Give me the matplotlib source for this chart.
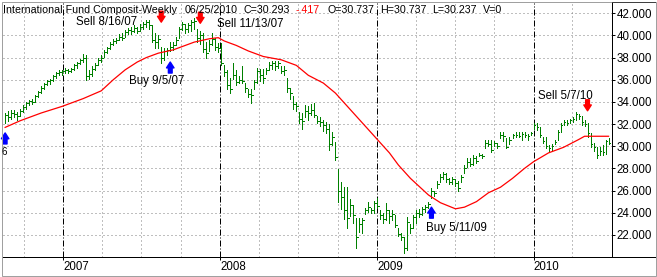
import matplotlib
matplotlib.use('Agg')
import matplotlib.pyplot as plt
import matplotlib.dates as mdates
from matplotlib.lines import Line2D
from matplotlib.patches import Rectangle
import pandas as pd

# Weekly bars, Aug 2006 - Jun 2010
weeks = pd.date_range(end='2010-06-25', periods=202, freq='W-FRI')

closes = [32.8, 32.6, 33.0, 32.9, 32.7, 33.2, 33.5, 33.9, 34.1, 34.0, 34.5, 34.9, 35.3, 35.6, 35.9, 36.0, 36.3, 36.6, 36.7, 36.8,
          36.9, 36.8, 37.0, 37.3, 37.5, 37.8, 38.0, 36.3, 36.5, 37.0, 37.3, 37.8, 38.0, 38.5, 38.9, 39.2, 39.5,
          39.6, 39.9, 39.8, 40.3, 40.5, 40.4, 40.7, 40.4, 40.8, 41.0, 41.2, 40.9, 39.6, 39.4, 39.7, 38.0, 38.6, 38.7, 39.0, 39.1,
          39.6, 40.6, 41.0, 40.6, 40.9, 41.2, 41.3, 39.8, 40.0, 38.8, 38.4, 39.2, 39.7, 39.0, 38.9,
          37.5, 36.7, 35.5, 35.2, 36.4, 35.8, 36.0, 35.9, 35.3, 34.7, 34.6, 35.8, 36.8, 36.4, 36.2, 36.9, 37.3, 37.5, 37.2, 37.5,
          36.8, 36.9, 35.3, 34.8, 33.8, 33.6, 32.5, 32.3, 33.2, 33.0, 33.3, 32.8, 32.3, 32.2, 31.9, 31.6, 30.2, 30.8, 29.0, 26.0,
          25.4, 24.2, 23.5, 24.7, 23.8, 21.8, 23.0, 23.3, 24.2, 24.5, 24.2, 24.9,
          24.6, 23.8, 23.4, 24.2, 23.7, 23.9, 22.9, 22.1, 21.8, 20.8, 23.2, 22.6, 23.6, 24.0, 23.9, 24.3, 24.5, 24.8, 26.0, 25.8,
          26.6, 27.2, 27.5, 27.0, 26.8, 27.0, 26.7, 26.2, 27.2, 28.0, 28.6, 28.4, 28.9, 28.7, 29.2, 29.1, 30.3, 30.2, 29.7, 30.3,
          30.0, 31.0, 30.9, 29.9, 30.6, 31.0, 31.0, 30.9, 31.1, 31.0, 30.9, 31.2,
          31.9, 31.7, 31.0, 30.5, 30.0, 29.8, 30.0, 30.4, 31.3, 31.9, 32.2, 32.1, 32.4, 32.5, 32.9, 32.7, 32.2, 32.0, 31.2, 30.2,
          29.9, 29.2, 29.6, 29.5, 30.5, 30.293]
highs = [33.0, 33.2, 33.3, 33.3, 33.1, 33.4, 33.7, 34.0, 34.2, 34.3, 34.6, 35.0, 35.4, 35.7, 36.0, 36.1, 36.4, 36.7, 36.9, 36.9,
         37.1, 37.0, 37.1, 37.4, 37.6, 37.9, 38.3, 38.2, 36.9, 37.2, 37.5, 38.0, 38.2, 38.7, 39.0, 39.4, 39.7,
         39.8, 40.1, 40.2, 40.5, 40.7, 40.8, 40.9, 40.8, 41.0, 41.2, 41.4, 41.4, 40.9, 40.2, 40.0, 39.0, 38.9, 38.9, 39.4, 39.4,
         39.9, 40.8, 41.2, 41.0, 41.1, 41.4, 41.6, 40.6, 40.4, 40.2, 39.4, 39.6, 40.2, 39.8, 39.3,
         39.3, 37.3, 36.9, 36.2, 37.5, 36.9, 36.3, 37.2, 35.7, 35.2, 35.2, 36.0, 37.1, 37.0, 37.0, 37.1, 37.6, 37.7, 37.7, 37.7,
         37.2, 37.2, 36.2, 35.3, 34.5, 34.0, 33.1, 33.0, 33.7, 33.6, 33.8, 33.9, 32.7, 32.6, 32.4, 32.2, 32.0, 31.3, 30.4, 27.9,
         26.8, 26.3, 26.3, 25.2, 24.7, 23.5, 23.5, 23.5, 24.4, 25.0, 24.4, 25.1,
         25.3, 24.2, 24.0, 24.9, 24.2, 24.2, 23.8, 22.6, 22.2, 21.8, 23.6, 23.0, 23.8, 24.2, 24.3, 24.5, 24.7, 25.0, 26.2, 26.0,
         26.9, 27.5, 27.7, 27.6, 27.1, 27.2, 27.0, 26.9, 27.4, 28.3, 28.9, 28.9, 29.2, 29.1, 29.4, 29.3, 30.6, 30.6, 30.6, 30.5,
         30.3, 31.3, 31.3, 30.7, 30.8, 31.1, 31.3, 31.3, 31.3, 31.3, 31.1, 31.3,
         32.1, 32.1, 31.7, 30.8, 30.8, 30.1, 30.2, 30.6, 31.5, 32.1, 32.4, 32.4, 32.5, 32.6, 33.1, 32.9, 32.7, 32.4, 32.1, 31.2,
         30.3, 29.9, 29.9, 30.1, 30.6, 30.737]
lows = [32.1, 32.3, 32.5, 32.6, 32.4, 32.7, 33.1, 33.4, 33.7, 33.8, 34.0, 34.4, 34.8, 35.2, 35.5, 35.6, 35.9, 36.2, 36.4, 36.4,
        36.6, 36.6, 36.7, 36.9, 37.1, 37.4, 37.6, 36.0, 36.1, 36.3, 36.9, 37.3, 37.6, 38.1, 38.4, 38.8, 39.1,
        39.3, 39.6, 39.6, 39.9, 40.1, 40.1, 40.3, 40.2, 40.4, 40.6, 40.8, 40.6, 39.4, 38.9, 38.9, 37.5, 37.8, 38.2, 38.6, 38.7,
        39.1, 39.8, 40.5, 40.2, 40.3, 40.4, 40.6, 39.4, 39.2, 38.5, 38.0, 38.6, 39.1, 38.7, 38.5,
        37.3, 36.3, 35.2, 34.8, 36.1, 35.5, 35.7, 35.7, 34.9, 34.4, 33.9, 35.2, 35.7, 35.9, 35.7, 36.5, 36.9, 37.0, 36.9, 37.1,
        36.6, 36.4, 34.9, 34.3, 33.4, 33.2, 32.1, 31.6, 32.6, 32.4, 32.8, 32.6, 32.1, 31.8, 31.4, 31.2, 29.7, 30.1, 28.8, 25.0,
        24.3, 23.4, 22.6, 23.7, 23.1, 20.8, 22.3, 22.2, 23.9, 24.1, 24.0, 24.0,
        24.4, 23.4, 23.1, 23.3, 23.1, 23.3, 22.7, 21.9, 21.5, 20.4, 20.6, 22.2, 22.6, 23.1, 23.6, 23.8, 24.1, 24.4, 25.3, 25.5,
        26.2, 26.8, 27.0, 26.8, 26.6, 26.6, 26.4, 26.0, 26.8, 27.6, 28.1, 28.2, 28.3, 28.5, 29.1, 28.9, 29.8, 30.0, 29.5, 30.0,
        29.8, 30.7, 30.5, 29.8, 30.2, 30.7, 30.8, 30.8, 30.6, 30.8, 30.6, 31.0,
        31.6, 31.5, 30.8, 30.3, 29.8, 29.5, 29.6, 30.2, 30.6, 31.3, 31.9, 31.9, 32.1, 32.2, 32.4, 32.5, 31.9, 31.8, 30.8, 29.9,
        29.6, 28.9, 29.2, 29.2, 29.3, 30.237]

# red moving average, read at selected weeks
ma_week_idx = [0, 5, 12, 19, 26, 32, 34, 36, 40, 44, 47, 51, 56, 60, 63, 68, 71, 73, 77, 81, 86, 88, 92, 97, 101, 106,
               110, 115, 118, 124, 128, 131, 135, 141, 145, 150, 153, 157, 161, 165, 169, 173, 176, 181, 186, 191, 193, 201]
ma_values = [31.7, 32.3, 33.0, 33.6, 34.3, 35.0, 35.5, 36.0, 36.9, 37.6, 38.0, 38.4, 38.7, 39.1, 39.4, 39.7, 39.8, 39.5,
             39.1, 38.6, 38.1, 38.0, 37.8, 37.3, 36.4, 35.7, 34.8, 33.3, 32.4, 30.6, 29.4, 28.3, 27.1, 25.6, 24.9, 24.35,
             24.5, 25.0, 25.8, 26.3, 27.1, 28.0, 28.6, 29.4, 29.9, 30.6, 30.9, 30.9]

# buy / sell signals
signal_labels = ['Sell 8/16/07', 'Buy 9/5/07', 'Sell 11/13/07', 'Buy 5/11/09', 'Sell 5/7/10', '']
signal_dates = ['2007-08-17', '2007-09-07', '2007-11-16', '2009-05-08', '2010-05-07', '2006-08-18']
signal_prices = [41.2, 37.6, 41.1, 24.5, 33.2, 31.2]
signal_kind = ['sell', 'buy', 'sell', 'buy', 'sell', 'buy']
# text offset from arrow tip (pixels) and alignment
label_offsets = [(-24, 0, 'right'), (-41, -19, 'left'), (17, -1, 'left'), (-5, -21, 'left'), (-50, 15, 'left'), (0, 0, 'left')]

W, H = 657, 277
PX = 0.72  # points per pixel at dpi 100
FONT = 'Liberation Sans'

fig = plt.figure(figsize=(W / 100, H / 100), dpi=100)
ax = fig.add_axes([3 / W, 20 / H, 609 / W, 254 / H])

x = mdates.date2num(weeks)
green = '#008000'
ax.vlines(x, lows, highs, color=green, lw=PX, antialiased=False)
ax.hlines(closes, x, x + 3.5, color=green, lw=PX, antialiased=False)

ma_x = [x[i] for i in ma_week_idx]
ax.plot(ma_x, ma_values, color='#ff0000', lw=0.9)

ax.set_xlim(mdates.date2num(pd.Timestamp('2006-08-13')), mdates.date2num(pd.Timestamp('2010-07-03')))
ax.set_ylim(20.0, 42.93)

# grid
yticks = list(range(22, 43, 2))
for v in yticks:
    ax.axhline(v, color='#808080', lw=PX, ls=(0, (1, 3)), zorder=0)
for q in pd.date_range('2006-10-01', '2010-04-01', freq='QS'):
    if q.month == 1:
        ax.axvline(mdates.date2num(q), color='black', lw=PX, ls=(0, (6, 2, 1, 2)), zorder=0)
    else:
        ax.axvline(mdates.date2num(q), color='#808080', lw=PX, ls=(0, (1, 3)), zorder=0)

# axes styling
for s in ['left', 'top']:
    ax.spines[s].set_visible(False)
ax.spines['right'].set_linewidth(PX)
ax.spines['bottom'].set_linewidth(PX)
ax.yaxis.tick_right()
ax.set_yticks(yticks)
ax.set_yticklabels([f'{v:.3f}' for v in yticks], fontsize=8.3, family=FONT)
ax.tick_params(axis='y', length=3 * PX, width=PX, pad=1)
years = [pd.Timestamp(f'{y}-01-01') for y in [2007, 2008, 2009, 2010]]
ax.set_xticks(mdates.date2num(years))
ax.set_xticklabels([str(y.year) for y in years], fontsize=8.3, family=FONT, ha='left')
ax.tick_params(axis='x', length=3 * PX, width=PX, pad=0.5)

# signals
for lab, d, p, kind, (dx, dy, ha) in zip(signal_labels, signal_dates, signal_prices, signal_kind, label_offsets):
    xd = mdates.date2num(pd.Timestamp(d))
    col = '#ff0000' if kind == 'sell' else '#0000ff'
    tail = 11 * PX if kind == 'sell' else -11 * PX
    ax.annotate('', xy=(xd, p), xytext=(0, tail), textcoords='offset points',
                arrowprops=dict(arrowstyle='simple,head_length=0.7,head_width=0.9,tail_width=0.45',
                                color=col, mutation_scale=6, shrinkA=0, shrinkB=0))
    if lab:
        ax.annotate(lab, xy=(xd, p), xytext=(dx * PX, dy * PX), textcoords='offset points',
                    ha=ha, va='center', fontsize=8.3, family=FONT)

# header line
header = [('International Fund Composit-Weekly', 3, 'black'), ('06/25/2010', 185, 'black'),
          ('C=30.293', 243, 'black'), ('-.417', 296, '#ff0000'), ('O=30.737', 327, 'black'),
          ('H=30.737', 380, 'black'), ('L=30.237', 432, 'black'), ('V=0', 483, 'black')]
for txt, px, col in header:
    fig.text(px / W, 1 - 10 / H, txt, color=col, fontsize=7.7, family=FONT, va='center', ha='left')
fig.text(2 / W, 1 - 152 / H, '6', fontsize=7, family=FONT, va='center', ha='left')

# frame lines
fig.add_artist(Line2D([612 / W, 655 / W], [20 / H, 20 / H], color='black', lw=PX))
fig.add_artist(Line2D([612 / W, 655 / W], [1 - 2 / H, 1 - 2 / H], color='#404040', lw=PX))
fig.add_artist(Rectangle((1.5 / W, 1.5 / H), 654 / W, 274 / H, fill=False, edgecolor='#a0a0a0', lw=PX))

fig.savefig('out.png', dpi=100)
